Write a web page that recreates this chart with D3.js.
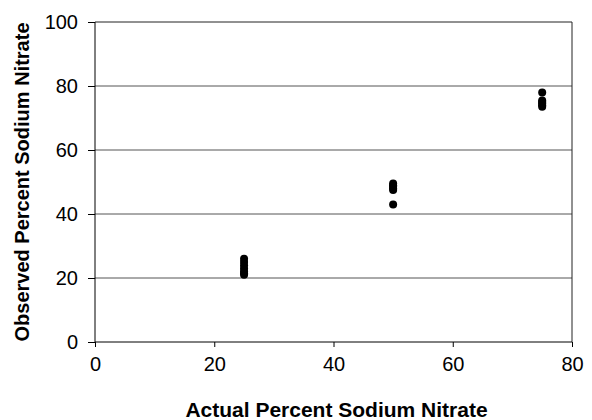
<!DOCTYPE html>
<meta charset="utf-8">
<title>Sodium Nitrate</title>
<script src="https://d3js.org/d3.v7.min.js"></script>
<style>
  body { margin: 0; background: #fff; }
  text { font-family: Arial, "Liberation Sans", sans-serif; }
</style>
<body>
</body>
<script>
  const width = 592, height = 420;
  const margin = {top: 22, right: 20, bottom: 78, left: 95};

  // observed values at each actual percentage
  const actual = [25, 50, 75];
  const observed = [
    [26, 25, 24, 23, 22, 21.5, 21],
    [49.5, 49, 48.5, 48, 47.5, 43],
    [78, 75.5, 75, 74.5, 74, 73.5]
  ];
  const xTicks = [0, 20, 40, 60, 80];
  const yTicks = [0, 20, 40, 60, 80, 100];

  const points = [];
  actual.forEach((a, i) => observed[i].forEach(v => points.push({x: a, y: v})));

  const x = d3.scaleLinear().domain([0, 80]).range([margin.left, width - margin.right]);
  const y = d3.scaleLinear().domain([0, 100]).range([height - margin.bottom, margin.top]);

  const svg = d3.select('body').append("svg").attr("width", width).attr("height", height);

  // grid lines
  svg.append("g")
    .selectAll("line")
    .data(yTicks.slice(1))
    .join("line")
      .attr("x1", x(0)).attr("x2", x(80))
      .attr("y1", d => y(d)).attr("y2", d => y(d))
      .attr("stroke", d => d === 100 ? "#222" : "#555")
      .attr("stroke-width", 1)

  // right border
  svg.append("line")
    .attr("x1", x(80)).attr("x2", x(80))
    .attr("y1", y(100)).attr("y2", y(0))
    .attr("stroke", "#222")

  const xAxis = svg.append("g")
    .attr("transform", `translate(0,${y(0)})`)
    .call(d3.axisBottom(x).tickValues(xTicks).tickSize(5).tickPadding(10))
  const yAxis = svg.append("g")
    .attr("transform", `translate(${x(0)},0)`)
    .call(d3.axisLeft(y).tickValues(yTicks).tickSize(7).tickPadding(10))

  ;[xAxis, yAxis].forEach(a => {
    a.select(".domain").attr("stroke", "#000")
    a.selectAll(".tick line").attr("stroke", "#000")
    a.selectAll(".tick text")
      .attr("font-size", 20)
      .attr("font-family", "Arial, 'Liberation Sans', sans-serif")
      .attr("fill", "#000")
  })
  xAxis.select(".domain").attr("d", `M${x(0)},0H${x(80)}`)
  yAxis.select(".domain").attr("d", `M0,${y(0)}V${y(100)}`)

  // points
  svg.append("g")
    .selectAll("circle")
    .data(points)
    .join("circle")
      .attr("cx", d => x(d.x))
      .attr("cy", d => y(d.y))
      .attr("r", 4)
      .attr("fill", "#000")

  // axis titles
  svg.append("text")
    .attr("x", (x(0) + x(80)) / 2 + 3)
    .attr("y", 417)
    .attr("text-anchor", "middle")
    .attr("font-size", 21)
    .attr("font-weight", "bold")
    .text("Actual Percent Sodium Nitrate")

  svg.append("text")
    .attr("transform", `translate(29,${(y(0) + y(100)) / 2}) rotate(-90)`)
    .attr("text-anchor", "middle")
    .attr("font-size", 20)
    .attr("font-weight", "bold")
    .text("Observed Percent Sodium Nitrate")
</script>
